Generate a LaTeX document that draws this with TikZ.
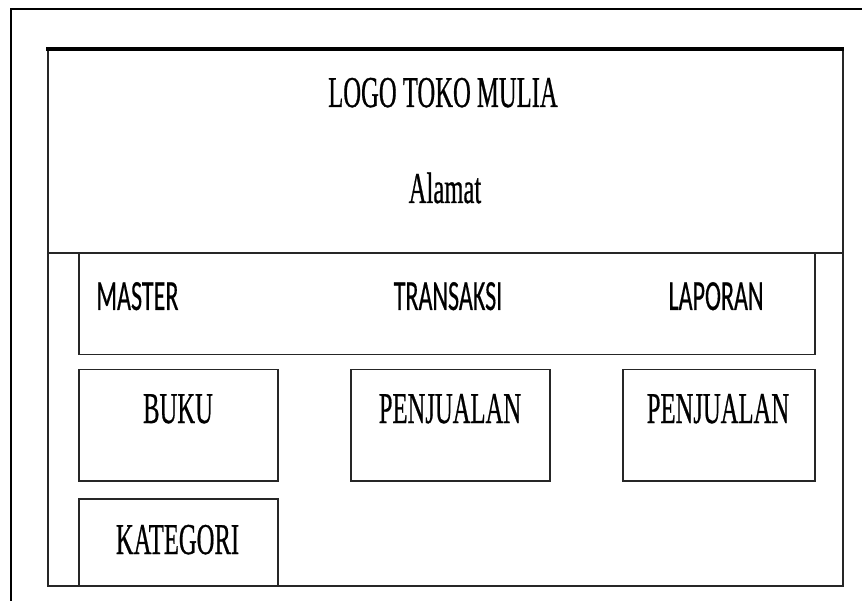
\documentclass[tikz,border=0pt]{standalone}
\usepackage{fontspec}
\usepackage{graphicx}
\setmainfont{Liberation Serif}[FakeBold=0.8]
\newfontfamily\menufont{Carlito}[FakeBold=0.6]
\newcommand{\sq}[1]{\scalebox{0.56}[1]{#1}}
\begin{document}
\begin{tikzpicture}[x=1pt,y=-1pt,
  boxline/.style={draw=black!85,line width=1.5pt,inner sep=0pt,anchor=north west},
  sertext/.style={anchor=base,inner sep=0pt,font=\fontsize{44}{48}\selectfont},
  santext/.style={anchor=base,inner sep=0pt,font=\menufont\fontsize{43}{48}\selectfont}]
\useasboundingbox (0,0) rectangle (862,601);
\fill[white] (0,0) rectangle (862,601);
% outer frame (cut)
\coordinate (fbl) at (11,601);
\coordinate (ftl) at (11,9);
\coordinate (ftr) at (862,9);
\draw[line width=1.6pt] (fbl) -- (ftl) -- (ftr);
% main box
\node[boxline,minimum width=795pt,minimum height=536pt] (main) at (47,49) {};
\draw[line width=3.5pt] ([xshift=-0.75pt]main.north west) -- ([xshift=0.75pt]main.north east);
% menu box
\node[boxline,minimum width=736pt,minimum height=101pt] (menu) at (78,253) {};
\draw[draw=black!85,line width=1.5pt] (main.west |- menu.north) -- (main.east |- menu.north);
% sub boxes
\node[boxline,minimum width=199pt,minimum height=111pt] (buku) at (78,369) {};
\node[boxline,minimum width=199pt,minimum height=111pt] (jual) at (350,369) {};
\node[boxline,minimum width=192pt,minimum height=111pt] (lap) at (622,369) {};
\node[boxline,minimum width=199pt,minimum height=87pt] (kat) at (78,498) {};
% texts
\node[sertext] (logo) at (443,107) {\sq{LOGO TOKO MULIA}};
\node[sertext] (alamat) at (445,203) {\sq{Alamat}};
\node[santext] (master) at (137.5,310) {\sq{MASTER}};
\node[santext] (transaksi) at (448,310) {\sq{TRANSAKSI}};
\node[santext] (laporan) at (716,310) {\sq{LAPORAN}};
\node[sertext] (tbuku) at (178,423) {\sq{BUKU}};
\node[sertext] (tjual) at (450,423) {\sq{PENJUALAN}};
\node[sertext] (tlap) at (718,423) {\sq{PENJUALAN}};
\node[sertext] (tkat) at (177.5,554) {\sq{KATEGORI}};
\end{tikzpicture}
\end{document}
